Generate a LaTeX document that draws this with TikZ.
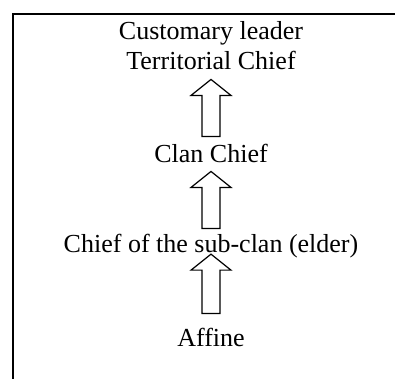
\documentclass[tikz,border=0pt]{standalone}
\usepackage{fontspec}
\setmainfont{Liberation Serif}
\usetikzlibrary{positioning}

\begin{document}
\begin{tikzpicture}[x=1pt, y=1pt,
  lbl/.style={font=\fontsize{26}{30}\selectfont, inner sep=0pt, align=center, anchor=base},
  uparr/.style 2 args={draw, line width=1.2pt, line join=miter, to path={
    ([shift={(-9pt,{#1})}]\tikztostart) -- ([shift={(-9pt,{-(#2)-16pt})}]\tikztotarget)
    -- ([shift={(-20pt,{-(#2)-16pt})}]\tikztotarget) -- ([shift={(0pt,{-(#2)})}]\tikztotarget)
    -- ([shift={(20pt,{-(#2)-16pt})}]\tikztotarget) -- ([shift={(9pt,{-(#2)-16pt})}]\tikztotarget)
    -- ([shift={(9pt,{#1})}]\tikztostart) -- cycle}}]
\useasboundingbox (0,0) rectangle (395,-378);
% frame
\draw[line width=1.7pt] (13,-390) |- (410,-14);
% levels
\node[lbl] (leader) at (211,-69) {Customary leader\\Territorial Chief};
\node[lbl] (clan) at (211,-162) {Clan Chief};
\node[lbl] (subclan) at (211,-252) {Chief of the sub-clan (elder)};
\node[lbl] (affine) at (211,-346) {Affine};
% arrows
\draw[uparr={7pt}{10pt}] (clan.north) to (leader.south);
\draw[uparr={5pt}{9pt}] (subclan.north) to (clan.south);
\draw[uparr={14pt}{-3.6pt}] (affine.north) to (subclan.south);
\end{tikzpicture}
\end{document}
